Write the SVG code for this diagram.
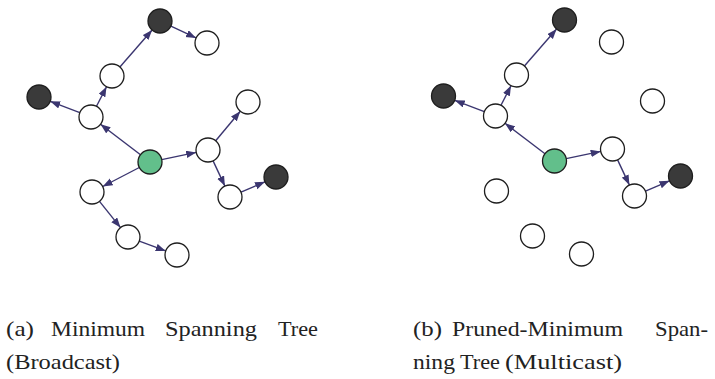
<svg xmlns="http://www.w3.org/2000/svg" width="715" height="379" viewBox="0 0 715 379">
  <style>
    .n { fill: #ffffff; stroke: #1e1e1e; stroke-width: 1.3; }
    .dst { fill: #3a3a3a; stroke: #1e1e1e; stroke-width: 1.3; }
    .src { fill: #62bf8b; stroke: #1e1e1e; stroke-width: 1.3; }
    .e { stroke: #3b3670; stroke-width: 1.4; fill: none; marker-end: url(#arr); }
  </style>
  <defs>
    <marker id="arr" markerUnits="userSpaceOnUse" markerWidth="11" markerHeight="8" refX="10" refY="3.75" orient="auto">
      <path d="M0,0 L10,3.75 L0,7.5 z" fill="#3b3670"/>
    </marker>
  </defs>
  <rect width="715" height="379" fill="#ffffff"/>

  <!-- (a) Minimum spanning tree, broadcast -->
  <g id="mst">
    <g id="mst-edges">
      <line class="e" x1="140.5" y1="154.7" x2="100.5" y2="124.3"/>
      <line class="e" x1="79.8" y1="112.7" x2="50.2" y2="101.3"/>
      <line class="e" x1="96.5" y1="106.3" x2="106.5" y2="86.7"/>
      <line class="e" x1="119.9" y1="67.0" x2="152.1" y2="30.0"/>
      <line class="e" x1="170.9" y1="26.1" x2="196.1" y2="37.9"/>
      <line class="e" x1="161.7" y1="159.6" x2="196.2" y2="152.4"/>
      <line class="e" x1="215.7" y1="140.8" x2="240.3" y2="111.2"/>
      <line class="e" x1="213.1" y1="160.9" x2="224.9" y2="186.1"/>
      <line class="e" x1="241.0" y1="192.2" x2="265.0" y2="181.8"/>
      <line class="e" x1="139.3" y1="167.5" x2="102.7" y2="186.5"/>
      <line class="e" x1="99.5" y1="201.4" x2="120.5" y2="227.6"/>
      <line class="e" x1="139.3" y1="241.1" x2="165.7" y2="250.9"/>
    </g>
    <g id="a-A"><circle class="dst" cx="160" cy="21" r="12"/></g>
    <g id="a-B"><circle class="n" cx="207" cy="43" r="12"/></g>
    <g id="a-C"><circle class="n" cx="112" cy="76" r="12"/></g>
    <g id="a-D"><circle class="dst" cx="39" cy="97" r="12"/></g>
    <g id="a-E"><circle class="n" cx="91" cy="117" r="12"/></g>
    <g id="a-F"><circle class="n" cx="248" cy="102" r="12"/></g>
    <g id="a-G"><circle class="src" cx="150" cy="162" r="12"/></g>
    <g id="a-H"><circle class="n" cx="208" cy="150" r="12"/></g>
    <g id="a-I"><circle class="n" cx="92" cy="192" r="12"/></g>
    <g id="a-J"><circle class="dst" cx="276" cy="177" r="12"/></g>
    <g id="a-K"><circle class="n" cx="230" cy="197" r="12"/></g>
    <g id="a-L"><circle class="n" cx="128" cy="237" r="12"/></g>
    <g id="a-M"><circle class="n" cx="177" cy="255" r="12"/></g>
  </g>

  <!-- (b) Pruned minimum spanning tree, multicast -->
  <g id="pmst" transform="translate(404.5,-1)">
    <g id="pmst-edges">
      <line class="e" x1="140.5" y1="154.7" x2="100.5" y2="124.3"/>
      <line class="e" x1="79.8" y1="112.7" x2="50.2" y2="101.3"/>
      <line class="e" x1="96.5" y1="106.3" x2="106.5" y2="86.7"/>
      <line class="e" x1="119.9" y1="67.0" x2="152.1" y2="30.0"/>
      <line class="e" x1="161.7" y1="159.6" x2="196.2" y2="152.4"/>
      <line class="e" x1="213.1" y1="160.9" x2="224.9" y2="186.1"/>
      <line class="e" x1="241.0" y1="192.2" x2="265.0" y2="181.8"/>
    </g>
    <g id="b-A"><circle class="dst" cx="160" cy="21" r="12"/></g>
    <g id="b-B"><circle class="n" cx="207" cy="43" r="12"/></g>
    <g id="b-C"><circle class="n" cx="112" cy="76" r="12"/></g>
    <g id="b-D"><circle class="dst" cx="39" cy="97" r="12"/></g>
    <g id="b-E"><circle class="n" cx="91" cy="117" r="12"/></g>
    <g id="b-F"><circle class="n" cx="248" cy="102" r="12"/></g>
    <g id="b-G"><circle class="src" cx="150" cy="162" r="12"/></g>
    <g id="b-H"><circle class="n" cx="208" cy="150" r="12"/></g>
    <g id="b-I"><circle class="n" cx="92" cy="192" r="12"/></g>
    <g id="b-J"><circle class="dst" cx="276" cy="177" r="12"/></g>
    <g id="b-K"><circle class="n" cx="230" cy="197" r="12"/></g>
    <g id="b-L"><circle class="n" cx="128" cy="237" r="12"/></g>
    <g id="b-M"><circle class="n" cx="177" cy="255" r="12"/></g>
  </g>

  <!-- sub-captions, justified word by word -->
  <g id="captions" font-family="Liberation Serif, serif" font-size="22" fill="#222222">
    <text x="6" y="336" textLength="28" lengthAdjust="spacingAndGlyphs">(a)</text>
    <text x="51" y="336" textLength="94" lengthAdjust="spacingAndGlyphs">Minimum</text>
    <text x="165" y="336" textLength="92" lengthAdjust="spacingAndGlyphs">Spanning</text>
    <text x="278" y="336" textLength="40" lengthAdjust="spacingAndGlyphs">Tree</text>
    <text x="6" y="369" textLength="114" lengthAdjust="spacingAndGlyphs">(Broadcast)</text>

    <text x="413" y="336" textLength="29" lengthAdjust="spacingAndGlyphs">(b)</text>
    <text x="452" y="336" textLength="171" lengthAdjust="spacingAndGlyphs">Pruned-Minimum</text>
    <text x="655" y="336" textLength="53" lengthAdjust="spacingAndGlyphs">Span-</text>
    <text x="413" y="369" textLength="42" lengthAdjust="spacingAndGlyphs">ning</text>
    <text x="460" y="369" textLength="40" lengthAdjust="spacingAndGlyphs">Tree</text>
    <text x="505" y="369" textLength="117" lengthAdjust="spacingAndGlyphs">(Multicast)</text>
  </g>
</svg>
